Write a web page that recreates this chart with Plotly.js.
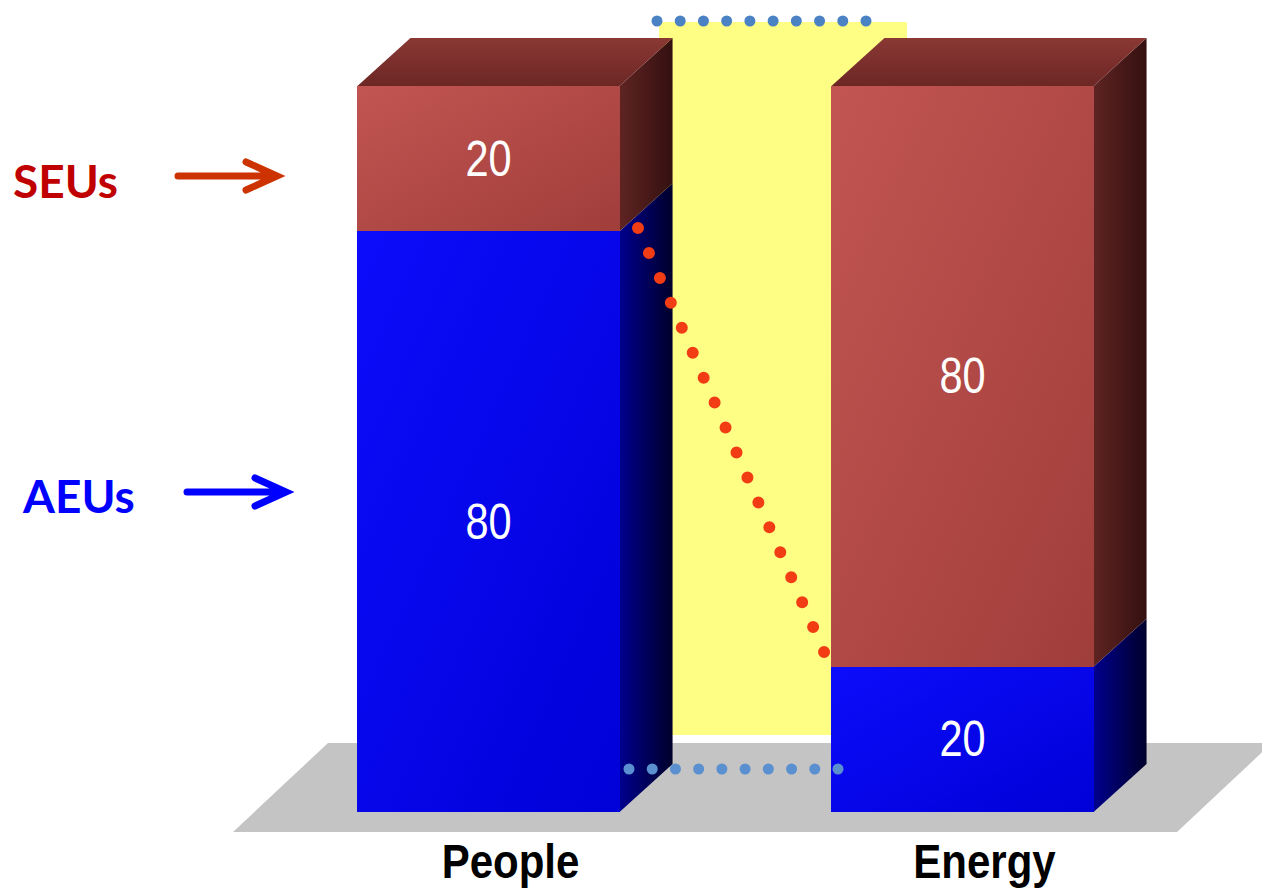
<!DOCTYPE html>
<html>
<head>
<meta charset="utf-8">
<script src="https://cdn.plot.ly/plotly-3.0.1.min.js"></script>
<style>
  html, body { margin: 0; padding: 0; background: #fff; }
  #chart { width: 1262px; height: 894px; }
  .shapelayer path { stroke-linecap: round !important; }
</style>
</head>
<body>
<div id="chart"></div>
<script>
// Share of each group (percent)
const categories = ['People', 'Energy'];
const aeus = [80, 20];
const seus = [20, 80];
const seriesNames = ['AEUs', 'SEUs'];

// Figure frame (pixels)
const W = 1262, H = 894;
const CAT_PX = 474;          // distance between category centres
const FIRST_CAT_PX = 488.5;  // x of the first category centre
const UNIT_PX = 7.26;        // one value unit
const ZERO_PX = 812;         // y of value 0
const PLOT_BOTTOM = 832;

const px2x = p => (p - FIRST_CAT_PX) / CAT_PX;
const px2y = p => (ZERO_PX - p) / UNIT_PX;

const BAR_W = 0.553;               // bar width in category units
const DX = 53 / CAT_PX;            // depth offset of the 3D box
const DY = 48 / UNIT_PX;

const COLORS = {
  blueFront: '#0404ee', blueSide: '#00006a', blueTop: '#000090',
  redFront: '#b54a46', redSide: '#4e1b19', redTop: '#7d2f2c'
};

// shading applied to the faces once the plot is drawn
const GRADIENTS = {
  gBlueFront: { dir: [0, 0, 1, 1], stops: ['#0c0cfb', '#0000d8'] },
  gRedFront:  { dir: [0, 0, 1, 1], stops: ['#c25551', '#a03e3b'] },
  gBlueSide:  { dir: [0, 0, 1, 0], stops: ['#00008e', '#00002a'] },
  gRedSide:   { dir: [0, 0, 1, 0], stops: ['#5e2422', '#341010'] },
  gRedTop:    { dir: [0, 0, 0, 1], stops: ['#8a3834', '#6c2725'] },
  gBlueTop:   { dir: [0, 0, 0, 1], stops: ['#0000a0', '#000070'] }
};

const poly = pts => 'M' + pts.map(p => p[0] + ',' + p[1]).join('L') + 'Z';
const pxPath = (cmds) => cmds.map(c => c[0] + px2x(c[1]) + ',' + px2y(c[2])).join(' ');

const shapes = [];
const shadedShapes = [];   // [shape index, gradient id]

// floor
shapes.push({
  type: 'path', layer: 'below', xref: 'x', yref: 'y',
  path: pxPath([['M', 233, 832], ['L', 328, 743], ['L', 1272, 743], ['L', 1177, 832]]) + ' Z',
  fillcolor: '#c4c4c4', line: { width: 0 }
});
// highlighted band between the two columns
shapes.push({
  type: 'rect', layer: 'below', xref: 'x', yref: 'y',
  x0: px2x(659), x1: px2x(907), y0: px2y(735), y1: px2y(22),
  fillcolor: '#fefe84', line: { width: 0 }
});

// side and top faces of the stacked boxes
categories.forEach((cat, i) => {
  const xl = i - BAR_W / 2, xr = i + BAR_W / 2;
  const segs = [
    { lo: 0, hi: aeus[i], side: COLORS.blueSide, top: COLORS.blueTop, gs: 'gBlueSide', gt: 'gBlueTop' },
    { lo: aeus[i], hi: aeus[i] + seus[i], side: COLORS.redSide, top: COLORS.redTop, gs: 'gRedSide', gt: 'gRedTop' }
  ];
  segs.forEach((s, k) => {
    shadedShapes.push([shapes.length, s.gs]);
    shapes.push({
      type: 'path', layer: 'below', xref: 'x', yref: 'y',
      path: poly([[xr, s.lo], [xr + DX, s.lo + DY], [xr + DX, s.hi + DY], [xr, s.hi]]),
      fillcolor: s.side, line: { width: 0 }
    });
    if (k === segs.length - 1) {
      shadedShapes.push([shapes.length, s.gt]);
      shapes.push({
        type: 'path', layer: 'below', xref: 'x', yref: 'y',
        path: poly([[xl, s.hi], [xl + DX, s.hi + DY], [xr + DX, s.hi + DY], [xr, s.hi]]),
        fillcolor: s.top, line: { width: 0 }
      });
    }
  });
});

// dotted guide lines
function dotted(x0, y0, x1, y1, n, color, size) {
  const len = Math.hypot(x1 - x0, y1 - y0);
  return {
    type: 'line', layer: 'above', xref: 'x', yref: 'y',
    x0: px2x(x0), y0: px2y(y0), x1: px2x(x1), y1: px2y(y1),
    line: { color: color, width: size, dash: '0px,' + (len / (n - 1)).toFixed(3) + 'px' }
  };
}
shapes.push(dotted(657, 21, 866, 21, 10, '#4a82c4', 11));
shapes.push(dotted(629, 769, 838, 769, 10, '#5a8fd0', 11));
shapes.push(dotted(638, 228, 835, 677, 19, '#f23c14', 12));

// pointer arrows beside the series names
shapes.push({
  type: 'path', layer: 'above', xref: 'x', yref: 'y',
  path: pxPath([['M', 178, 176], ['L', 274, 176], ['M', 246, 162], ['L', 277, 176], ['L', 246, 190]]),
  line: { color: '#cc3300', width: 7 }
});
shapes.push({
  type: 'path', layer: 'above', xref: 'x', yref: 'y',
  path: pxPath([['M', 187, 492], ['L', 283, 492], ['M', 255, 478], ['L', 286, 492], ['L', 255, 506]]),
  line: { color: '#0000ff', width: 7 }
});

const valueFont = { family: 'Liberation Sans, Arial, sans-serif', size: 50, color: '#ffffff' };

const traces = [
  {
    type: 'bar', name: seriesNames[0], x: categories, y: aeus,
    text: aeus.map(String), textposition: 'inside', insidetextanchor: 'middle',
    textangle: 0, constraintext: 'none', textfont: valueFont,
    width: BAR_W, marker: { color: COLORS.blueFront, line: { width: 0 } },
    hoverinfo: 'skip', showlegend: false
  },
  {
    type: 'bar', name: seriesNames[1], x: categories, y: seus,
    text: seus.map(String), textposition: 'inside', insidetextanchor: 'middle',
    textangle: 0, constraintext: 'none', textfont: valueFont,
    width: BAR_W, marker: { color: COLORS.redFront, line: { width: 0 } },
    hoverinfo: 'skip', showlegend: false
  }
];
const barGradients = ['gBlueFront', 'gRedFront'];

const layout = {
  width: W, height: H,
  margin: { l: 0, r: 0, t: 0, b: H - PLOT_BOTTOM, pad: 0 },
  paper_bgcolor: '#ffffff', plot_bgcolor: '#ffffff',
  barmode: 'stack', showlegend: false,
  xaxis: {
    type: 'category', range: [px2x(0), px2x(W)],
    showgrid: false, zeroline: false, showline: false, ticks: '',
    ticklabelstandoff: -3, ticklabelshift: 22,
    tickfont: { family: 'Liberation Sans, Arial, sans-serif', size: 48, color: '#000', weight: 'bold' },
    fixedrange: true
  },
  yaxis: {
    range: [px2y(PLOT_BOTTOM), px2y(0)], visible: false, fixedrange: true
  },
  shapes: shapes,
  annotations: [
    {
      xref: 'paper', yref: 'paper', x: 65 / W, y: (PLOT_BOTTOM - 181) / PLOT_BOTTOM,
      xanchor: 'center', yanchor: 'middle', showarrow: false, text: '<b>SEUs</b>',
      font: { family: 'Lato, sans-serif', size: 46, color: '#c00000' }
    },
    {
      xref: 'paper', yref: 'paper', x: 78 / W, y: (PLOT_BOTTOM - 495) / PLOT_BOTTOM,
      xanchor: 'center', yanchor: 'middle', showarrow: false, text: '<b>AEUs</b>',
      font: { family: 'Lato, sans-serif', size: 46, color: '#0000ff' }
    }
  ]
};

const gd = document.getElementById('chart');
Plotly.newPlot(gd, traces, layout, { staticPlot: true, displayModeBar: false }).then(() => {
  const svgNS = 'http://www.w3.org/2000/svg';
  const svg = gd.querySelector('svg.main-svg');
  const defs = document.createElementNS(svgNS, 'defs');
  Object.keys(GRADIENTS).forEach(id => {
    const g = GRADIENTS[id];
    const lg = document.createElementNS(svgNS, 'linearGradient');
    lg.setAttribute('id', id);
    ['x1', 'y1', 'x2', 'y2'].forEach((a, j) => lg.setAttribute(a, g.dir[j]));
    g.stops.forEach((c, j) => {
      const st = document.createElementNS(svgNS, 'stop');
      st.setAttribute('offset', j / (g.stops.length - 1));
      st.setAttribute('stop-color', c);
      lg.appendChild(st);
    });
    defs.appendChild(lg);
  });
  svg.insertBefore(defs, svg.firstChild);

  shadedShapes.forEach(([idx, gid]) => {
    gd.querySelectorAll('.shapelayer path[data-index="' + idx + '"]').forEach(p => {
      p.style.fill = 'url(#' + gid + ')';
    });
  });
  gd.querySelectorAll('.barlayer .trace').forEach((tr, t) => {
    tr.querySelectorAll('.point path').forEach(p => { p.style.fill = 'url(#' + barGradients[t] + ')'; });
  });

  // narrow lettering for the category names and the values
  const squeeze = (sel, f) => gd.querySelectorAll(sel).forEach(t => {
    const w = t.getComputedTextLength();
    t.setAttribute('textLength', (w * f).toFixed(1));
    t.setAttribute('lengthAdjust', 'spacingAndGlyphs');
  });
  squeeze('.xtick text', 0.875);
  squeeze('.bartext', 0.83);
});
</script>
</body>
</html>
